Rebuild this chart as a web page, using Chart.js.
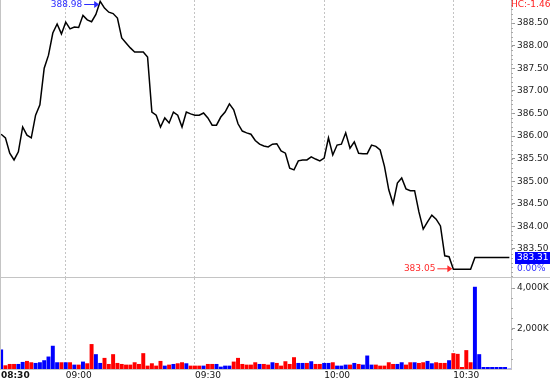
<!DOCTYPE html>
<html><head><meta charset="utf-8">
<script src="https://cdn.jsdelivr.net/npm/chart.js@4/dist/chart.umd.min.js"></script>
<style>
html,body{margin:0;padding:0;background:#fff;overflow:hidden;}
#wrap{position:relative;width:550px;height:381px;background:#fff;}
canvas{position:absolute;left:0;}
#pc{top:0;}
#vc{top:277px;}
</style></head><body>
<div id="wrap"><canvas id="pc" width="550" height="277"></canvas><canvas id="vc" width="550" height="104"></canvas></div>
<script>
// ---- data ----
const times = [
 "08:45","08:46","08:47","08:48","08:49","08:50","08:51","08:52","08:53","08:54","08:55","08:56","08:57","08:58","08:59",
 "09:00","09:01","09:02","09:03","09:04","09:05","09:06","09:07","09:08","09:09","09:10","09:11","09:12","09:13","09:14",
 "09:15","09:16","09:17","09:18","09:19","09:20","09:21","09:22","09:23","09:24","09:25","09:26","09:27","09:28","09:29",
 "09:30","09:31","09:32","09:33","09:34","09:35","09:36","09:37","09:38","09:39","09:40","09:41","09:42","09:43","09:44",
 "09:45","09:46","09:47","09:48","09:49","09:50","09:51","09:52","09:53","09:54","09:55","09:56","09:57","09:58","09:59",
 "10:00","10:01","10:02","10:03","10:04","10:05","10:06","10:07","10:08","10:09","10:10","10:11","10:12","10:13","10:14",
 "10:15","10:16","10:17","10:18","10:19","10:20","10:21","10:22","10:23","10:24","10:25","10:26","10:27","10:28","10:29",
 "10:30","10:31","10:32","10:33","10:34","10:35","10:36","10:37","10:38","10:39","10:40","10:41","10:42","10:43"
];
const prices = [
 386.04,385.96,385.62,385.47,385.65,386.20,386.02,385.96,386.46,386.69,387.50,387.79,388.28,388.48,388.26,
 388.52,388.37,388.41,388.40,388.67,388.57,388.53,388.69,388.98,388.83,388.74,388.71,388.61,388.17,388.06,
 387.95,387.86,387.86,387.86,387.75,386.53,386.46,386.20,386.40,386.29,386.53,386.46,386.20,386.53,386.49,
 386.46,386.46,386.51,386.40,386.24,386.24,386.42,386.53,386.71,386.58,386.27,386.11,386.07,386.04,385.90,
 385.82,385.78,385.76,385.82,385.83,385.67,385.62,385.29,385.25,385.45,385.47,385.47,385.54,385.49,385.45,
 385.51,385.96,385.58,385.80,385.82,386.07,385.73,385.87,385.62,385.61,385.61,385.80,385.77,385.69,385.33,
 384.81,384.50,384.96,385.07,384.83,384.79,384.79,384.32,383.94,384.10,384.25,384.16,384.01,383.35,383.33,
 383.05,383.05,383.05,383.05,383.05,383.31,383.31,383.31,383.31,383.31,383.31,383.31,383.31,383.31
];
const volumesK = [
 950,167,233,233,233,333,383,317,283,317,417,600,1133,317,317,
 317,317,200,200,350,267,1217,717,283,533,233,717,283,233,200,
 200,317,233,767,150,267,150,383,150,200,233,267,317,267,150,
 150,150,150,233,233,233,100,150,150,350,533,233,200,200,317,
 233,233,200,317,283,150,367,233,567,283,283,283,367,233,233,
 283,283,317,150,150,200,200,283,233,200,650,200,200,150,150,
 317,233,233,317,200,317,317,283,317,383,267,317,283,283,417,
 767,733,83,917,317,4050,717,83,83,83,83,83,83,0
];
// 1 = blue bar, 0 = red bar
const volumeSide = [
 1,0,0,0,1,1,0,0,1,1,1,1,1,1,0,
 1,0,1,0,1,0,0,1,1,0,0,0,0,0,0,
 0,0,0,0,0,0,0,0,1,0,1,0,0,1,0,
 0,0,1,0,0,1,1,1,1,0,0,0,0,0,0,
 1,0,0,1,0,0,0,0,0,1,1,0,1,0,0,
 1,1,0,1,1,1,0,1,0,1,1,1,0,0,0,
 0,0,1,1,0,0,1,0,0,1,1,0,0,0,1,
 0,0,0,0,0,1,1,1,1,1,1,1,1,1
];
const timeTickLabels = ["08:30","09:00","09:30","10:00","10:30"];
const priceTickValues = [383.5,384.0,384.5,385.0,385.5,386.0,386.5,387.0,387.5,388.0,388.5];
const volTickValues = [2000,4000];
const headerText = "HC:-1.46";
const changeText = "0.00%";

// ---- layout constants ----
const X_MIN = -0.03, X_MAX = 118.38;
const PRICE_MIN = 382.88, PRICE_MAX = 389.01;
const VOL_MAX = 4500;
const FAM = "'DejaVu Sans', Verdana, sans-serif";
const font = (size, weight) => ({family: FAM, size: size, weight: weight || 'normal'});
const GRID = '#c4c4c4';
const BLUE = '#0000ff', RED = '#ff0000';
const gridIdx = timeTickLabels.slice(1).map(t => times.indexOf(t));

Chart.defaults.animation = false;
Chart.defaults.font.family = FAM;

function arrowLabel(ctx, px, ay, text, color) {
  ctx.fillStyle = color; ctx.strokeStyle = color; ctx.lineWidth = 1;
  ctx.beginPath(); ctx.moveTo(px - 16, ay + 0.5); ctx.lineTo(px - 3, ay + 0.5); ctx.stroke();
  ctx.beginPath(); ctx.moveTo(px - 1, ay + 0.5); ctx.lineTo(px - 6, ay - 3); ctx.lineTo(px - 6, ay + 4); ctx.closePath(); ctx.fill();
  ctx.font = "9px " + FAM; ctx.textAlign = 'right'; ctx.textBaseline = 'middle';
  ctx.fillText(text, px - 18, ay + 0.5);
}

const priceDecor = {
  id: 'priceDecor',
  afterDraw(chart) {
    const {ctx, chartArea: ca, scales: {x, y}} = chart;
    ctx.save();
    ctx.strokeStyle = GRID; ctx.lineWidth = 1;
    ctx.beginPath(); ctx.moveTo(0.5, 0); ctx.lineTo(0.5, chart.height); ctx.stroke();
    // minor ticks
    ctx.strokeStyle = '#aaa';
    ctx.beginPath();
    for (let k = Math.ceil(PRICE_MIN * 10); k <= Math.floor(PRICE_MAX * 10); k++) {
      const py = Math.round(y.getPixelForValue(k / 10)) + 0.5;
      ctx.moveTo(ca.right, py); ctx.lineTo(ca.right + 2, py);
    }
    ctx.stroke();
    // high / low markers
    const hi = Math.max(...prices), lo = Math.min(...prices);
    const ih = prices.indexOf(hi), il = prices.indexOf(lo);
    arrowLabel(ctx, x.getPixelForValue(ih), Math.max(y.getPixelForValue(hi), 4), hi.toFixed(2), '#2b2bff');
    arrowLabel(ctx, x.getPixelForValue(il), y.getPixelForValue(lo) - 1, lo.toFixed(2), '#ff2b2b');
    // header
    ctx.font = "9px " + FAM; ctx.textAlign = 'left'; ctx.textBaseline = 'middle';
    ctx.fillStyle = '#ff2020';
    ctx.fillText(headerText, ca.right, 4.5);
    // last price box
    const last = prices[prices.length - 1];
    const ly = y.getPixelForValue(last);
    ctx.fillStyle = BLUE;
    ctx.fillRect(ca.right + 4, Math.round(ly) - 6, 35, 12);
    ctx.fillStyle = '#fff';
    ctx.fillText(last.toFixed(2), ca.right + 6, ly + 0.5);
    ctx.fillStyle = '#3030ff';
    ctx.fillText(changeText, ca.right + 6, ly + 11.5);
    ctx.restore();
  }
};

const volDecor = {
  id: 'volDecor',
  afterDraw(chart) {
    const {ctx, chartArea: ca, scales: {y}} = chart;
    ctx.save();
    ctx.strokeStyle = GRID; ctx.lineWidth = 1;
    ctx.beginPath();
    ctx.moveTo(0, 0.5); ctx.lineTo(chart.width, 0.5);
    ctx.moveTo(0.5, 0); ctx.lineTo(0.5, ca.bottom);
    ctx.moveTo(0, Math.round(ca.bottom) + 0.5); ctx.lineTo(ca.right, Math.round(ca.bottom) + 0.5);
    ctx.stroke();
    ctx.strokeStyle = '#aaa';
    ctx.beginPath();
    for (let v = 500; v < VOL_MAX; v += 500) {
      const py = Math.round(y.getPixelForValue(v)) + 0.5;
      ctx.moveTo(ca.right, py); ctx.lineTo(ca.right + 2, py);
    }
    ctx.stroke();
    ctx.restore();
  }
};

new Chart(document.getElementById('pc'), {
  type: 'line',
  data: { datasets: [{
    data: prices.map((v, i) => ({x: i, y: v})),
    borderColor: '#000', borderWidth: 1.5, pointRadius: 0, tension: 0, fill: false
  }]},
  options: {
    responsive: false, animation: false,
    layout: {padding: {left: 1, top: 0, right: 0, bottom: 0}},
    plugins: {legend: {display: false}, tooltip: {enabled: false}},
    scales: {
      x: {
        type: 'linear', min: X_MIN, max: X_MAX, offset: false,
        afterBuildTicks: s => { s.ticks = gridIdx.map(v => ({value: v})); },
        afterFit: s => { s.height = 0; s.paddingLeft = 0; s.paddingRight = 0; },
        ticks: {display: false},
        grid: {color: GRID, lineWidth: 1, drawTicks: false, offset: false},
        border: {display: false, dash: [2, 2]}
      },
      y: {
        type: 'linear', position: 'right', min: PRICE_MIN, max: PRICE_MAX,
        afterBuildTicks: s => { s.ticks = priceTickValues.map(v => ({value: v})); },
        afterFit: s => { s.width = 39; s.paddingTop = 0; s.paddingBottom = 0; },
        ticks: {font: font(9), color: '#222', padding: 2, callback: v => Number(v).toFixed(2)},
        grid: {drawOnChartArea: false, drawTicks: true, tickLength: 4, tickColor: '#999'},
        border: {display: true, color: GRID}
      }
    }
  },
  plugins: [priceDecor]
});

new Chart(document.getElementById('vc'), {
  type: 'bar',
  data: { datasets: [{
    data: volumesK.map((v, i) => ({x: i, y: v})),
    backgroundColor: volumeSide.map(s => s ? BLUE : RED),
    borderWidth: 0, barThickness: 3.3
  }]},
  options: {
    responsive: false, animation: false,
    layout: {padding: {left: 1, top: 1, right: 0, bottom: 0}},
    plugins: {legend: {display: false}, tooltip: {enabled: false}},
    scales: {
      x: {
        type: 'linear', min: X_MIN, max: X_MAX, offset: false, position: 'bottom',
        afterBuildTicks: s => { s.ticks = [{value: X_MIN}].concat(gridIdx.map(v => ({value: v}))); },
        afterFit: s => { s.height = 12; s.paddingLeft = 0; s.paddingRight = 0; },
        ticks: {
          display: true, align: 'start', padding: 1.5, autoSkip: false, maxRotation: 0, minRotation: 0,
          callback: (v, i) => timeTickLabels[i],
          font: c => c.index === 0 ? font(9, 'bold') : font(9),
          color: '#111'
        },
        grid: {color: c => c.index === 0 ? 'rgba(0,0,0,0)' : GRID, lineWidth: 1, drawTicks: false, offset: false},
        border: {display: false, dash: [2, 2]}
      },
      y: {
        type: 'linear', position: 'right', min: 0, max: VOL_MAX,
        afterBuildTicks: s => { s.ticks = volTickValues.map(v => ({value: v})); },
        afterFit: s => { s.width = 39; s.paddingTop = 0; s.paddingBottom = 0; },
        ticks: {font: font(9), color: '#222', padding: 2, callback: v => Number(v).toLocaleString('en-US') + 'K'},
        grid: {drawOnChartArea: false, drawTicks: true, tickLength: 4, tickColor: '#999'},
        border: {display: true, color: GRID}
      }
    }
  },
  plugins: [volDecor]
});
</script>
</body></html>
